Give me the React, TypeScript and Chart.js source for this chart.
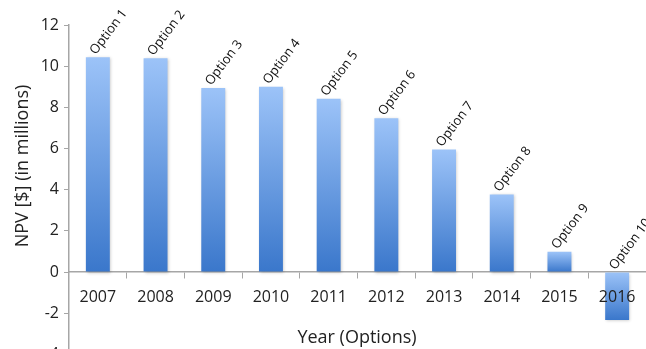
import React, { useEffect, useRef } from "react";
import { Chart, registerables } from "chart.js";

Chart.register(...registerables);

const years = ["2007", "2008", "2009", "2010", "2011", "2012", "2013", "2014", "2015", "2016"];
const optionLabels = ["Option 1", "Option 2", "Option 3", "Option 4", "Option 5", "Option 6", "Option 7", "Option 8", "Option 9", "Option 10"];
const npvValues = [10.43, 10.38, 8.94, 9.0, 8.42, 7.47, 5.95, 3.77, 0.98, -2.33];
const yTicks = [-4, -2, 0, 2, 4, 6, 8, 10, 12];

const FONT = "'Open Sans', 'Liberation Sans', sans-serif";

const optionLabelPlugin = {
  id: "optionLabels",
  afterDatasetsDraw(chart: any) {
    const ctx = chart.ctx;
    const meta = chart.getDatasetMeta(0);
    ctx.save();
    ctx.fillStyle = "#111";
    ctx.font = `13px ${FONT}`;
    ctx.textAlign = "left";
    ctx.textBaseline = "alphabetic";
    meta.data.forEach((el: any, i: number) => {
      const top = Math.min(el.y, el.base);
      ctx.save();
      ctx.translate(el.x - 2, top - 2);
      ctx.rotate((-53 * Math.PI) / 180);
      ctx.fillText(optionLabels[i], 0, 0);
      ctx.restore();
    });
    ctx.restore();
  },
};

const titlesPlugin = {
  id: "axisTitles",
  afterDraw(chart: any) {
    const ctx = chart.ctx;
    ctx.save();
    ctx.fillStyle = "#222";
    ctx.font = `18px ${FONT}`;
    ctx.textAlign = "center";
    ctx.textBaseline = "middle";
    ctx.fillText("Year (Options)", 357, 338);
    ctx.translate(23, 166);
    ctx.rotate(-Math.PI / 2);
    ctx.fillText("NPV [$] (in millions)", 0, 0);
    ctx.restore();
  },
};

const shadowPlugin = {
  id: "barShadow",
  beforeDatasetsDraw(chart: any) {
    const ctx = chart.ctx;
    ctx.save();
    ctx.shadowColor = "rgba(0,0,0,0.22)";
    ctx.shadowBlur = 3;
    ctx.shadowOffsetX = 1;
    ctx.shadowOffsetY = 1;
  },
  afterDatasetsDraw(chart: any) {
    chart.ctx.restore();
  },
};

export default function App() {
  const canvasRef = useRef<HTMLCanvasElement | null>(null);

  useEffect(() => {
    if (!canvasRef.current) return;
    const chart = new Chart(canvasRef.current, {
      type: "bar",
      data: {
        labels: years,
        datasets: [
          {
            data: npvValues,
            categoryPercentage: 1,
            barPercentage: 0.415,
            backgroundColor: (c: any) => {
              const ch = c.chart;
              const { chartArea, scales } = ch;
              if (!chartArea || !scales.y || c.type !== "data") return "#6a9de6";
              const v = c.raw as number;
              const yTop = scales.y.getPixelForValue(Math.max(v, 0));
              const yBot = scales.y.getPixelForValue(Math.min(v, 0));
              const g = ch.ctx.createLinearGradient(0, yTop, 0, yBot + 0.01);
              g.addColorStop(0, "#9cc3f8");
              g.addColorStop(1, "#3a77cb");
              return g;
            },
          },
        ],
      },
      options: {
        animation: false,
        responsive: true,
        maintainAspectRatio: false,
        layout: { padding: { left: 0, right: 0, top: 25, bottom: 0 } },
        plugins: {
          legend: { display: false },
          tooltip: { enabled: false },
        },
        scales: {
          x: {
            position: { y: 0 } as any,
            grid: {
              offset: true,
              drawOnChartArea: false,
              drawTicks: true,
              tickLength: 6,
              color: "#a6a6a6",
            },
            border: { color: "#a6a6a6", width: 1.5 },
            ticks: {
              z: 1,
              color: "#222",
              font: { family: FONT, size: 16 },
              padding: 10,
              maxRotation: 0,
              autoSkip: false,
            },
          },
          y: {
            min: -4,
            max: 12,
            afterBuildTicks: (axis: any) => {
              axis.ticks = yTicks.map((v) => ({ value: v }));
            },
            afterFit: (axis: any) => {
              axis.width = 69;
            },
            grid: {
              drawOnChartArea: false,
              drawTicks: true,
              tickLength: 5,
              color: "#a6a6a6",
            },
            border: { color: "#a6a6a6", width: 1.5 },
            ticks: {
              color: "#222",
              font: { family: FONT, size: 16 },
              padding: 5,
            },
            title: { display: false },
          },
        },
      },
      plugins: [shadowPlugin, optionLabelPlugin, titlesPlugin],
    });
    return () => chart.destroy();
  }, []);

  return (
    <div style={{ position: "fixed", top: 0, left: 0, width: 646, height: 369, background: "#fff" }}>
      <canvas ref={canvasRef} />
    </div>
  );
}
